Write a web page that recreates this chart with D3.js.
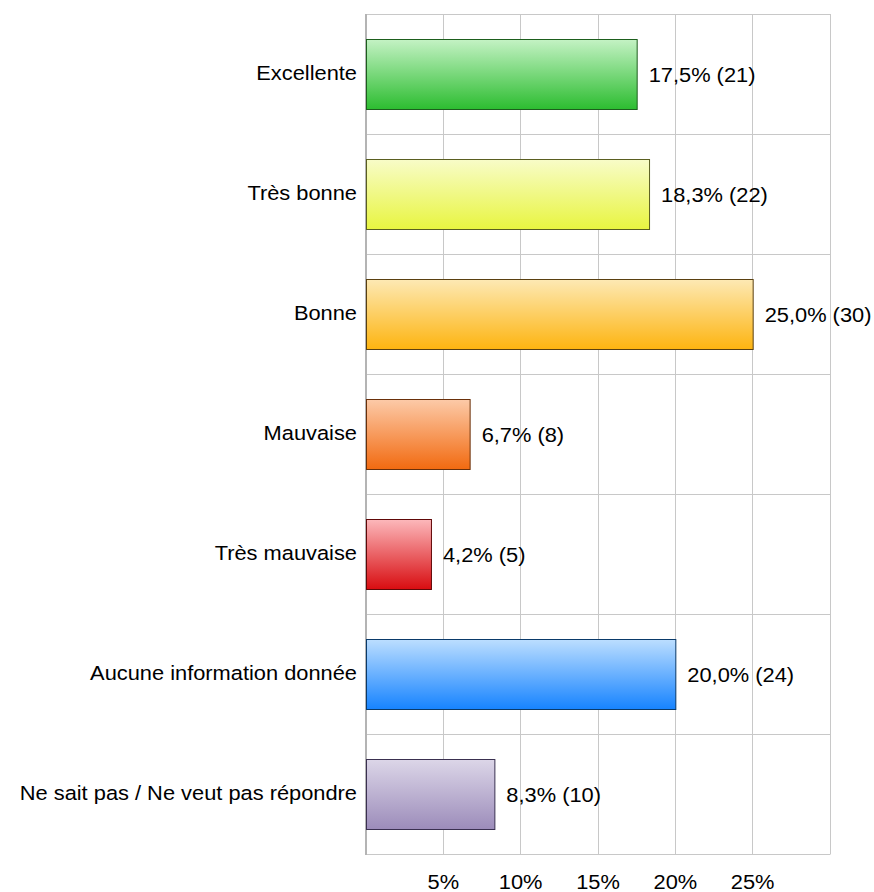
<!DOCTYPE html>
<html>
<head>
<meta charset="utf-8">
<script src="https://cdn.jsdelivr.net/npm/d3@7"></script>
<style>
  html, body { margin: 0; padding: 0; background: #ffffff; }
  text { font-family: "Liberation Sans", Arial, sans-serif; fill: #000; }
</style>
</head>
<body>
<svg id="chart" width="874" height="892"></svg>
<script>
// Survey answers, share of respondents (%) and counts
const categories = [
  "Excellente",
  "Très bonne",
  "Bonne",
  "Mauvaise",
  "Très mauvaise",
  "Aucune information donnée",
  "Ne sait pas / Ne veut pas répondre"
];
const percents = [17.5, 18.3, 25.0, 6.7, 4.2, 20.0, 8.3];
const counts = [21, 22, 30, 8, 5, 24, 10];
const tickValues = [5, 10, 15, 20, 25];
// Gradient stops (top, bottom) and outline for each bar
const topColors = ["#c4f2c4", "#f8fcc8", "#fde9b4", "#fccaa8", "#fcb8bb", "#bcdeff", "#dcd6e8"];
const bottomColors = ["#2cbd30", "#e8f540", "#fdb410", "#f26a10", "#d80c10", "#1683ff", "#9c8cba"];
const strokeColors = ["#1d5e1d", "#5a5e20", "#5a4010", "#6a300a", "#600808", "#0a3a6a", "#3a3050"];

const svg = d3.select("#chart");
const margin = { left: 366, right: 44, top: 14, bottom: 38 };
const W = 874, H = 892;
const x0 = margin.left, x1 = W - margin.right;
const y0 = margin.top, y1 = H - margin.bottom;

const x = d3.scaleLinear().domain([0, 30]).range([x0, x1]);
const y = d3.scaleBand().domain(categories).range([y0, y1])
  .paddingInner(0.4167).paddingOuter(0.4167 / 2);

const fontSize = 19.5;
const stretch = 1.12;

// gradients
const defs = svg.append("defs");
categories.forEach((c, i) => {
  const g = defs.append("linearGradient")
    .attr("id", "grad" + i).attr("x1", 0).attr("y1", 0).attr("x2", 0).attr("y2", 1);
  g.append("stop").attr("offset", "0%").attr("stop-color", topColors[i]);
  g.append("stop").attr("offset", "100%").attr("stop-color", bottomColors[i]);
});

// vertical grid lines
svg.append("g").selectAll("line")
  .data(tickValues.concat([30]))
  .join("line")
  .attr("x1", d => x(d)).attr("x2", d => x(d))
  .attr("y1", y0).attr("y2", y1)
  .attr("stroke", "#c8c8c8").attr("stroke-width", 1)
  .attr("shape-rendering", "crispEdges");

// horizontal lines between categories and at the top
const step = y.step();
const hLines = d3.range(categories.length).map(i => y0 + i * step);
svg.append("g").selectAll("line")
  .data(hLines)
  .join("line")
  .attr("x1", x0).attr("x2", x1)
  .attr("y1", d => d + 0.5).attr("y2", d => d + 0.5)
  .attr("stroke", "#c8c8c8").attr("stroke-width", 1);

// bottom axis line
svg.append("line")
  .attr("x1", x0).attr("x2", x1 + 0.5)
  .attr("y1", y1 + 0.5).attr("y2", y1 + 0.5)
  .attr("stroke", "#c8c8c8").attr("stroke-width", 1);

// left axis line
svg.append("line")
  .attr("x1", x0).attr("x2", x0)
  .attr("y1", y0).attr("y2", y1 + 1)
  .attr("stroke", "#b4b4b4").attr("stroke-width", 2);

// bars
svg.append("g").selectAll("rect")
  .data(categories)
  .join("rect")
  .attr("x", x(0) + 0.5)
  .attr("y", d => y(d) + 0.5)
  .attr("width", (d, i) => x(percents[i]) - x(0))
  .attr("height", y.bandwidth())
  .attr("fill", (d, i) => `url(#grad${i})`)
  .attr("stroke", (d, i) => strokeColors[i])
  .attr("stroke-width", 1);

// category labels
svg.append("g").selectAll("text")
  .data(categories)
  .join("text")
  .attr("transform", d => `translate(${x0 - 9},${y(d) + y.bandwidth() / 2 - 1}) scale(${stretch},1)`)
  .attr("text-anchor", "end")
  .attr("dy", "0.35em")
  .attr("font-size", fontSize)
  .text(d => d);

// value labels
const fmt = v => v.toFixed(1).replace(".", ",");
svg.append("g").selectAll("text")
  .data(categories)
  .join("text")
  .attr("transform", (d, i) => `translate(${x(percents[i]) + 12},${y(d) + y.bandwidth() / 2 + 1}) scale(${stretch},1)`)
  .attr("dy", "0.35em")
  .attr("font-size", fontSize)
  .text((d, i) => `${fmt(percents[i])}% (${counts[i]})`);

// x tick labels
svg.append("g").selectAll("text")
  .data(tickValues)
  .join("text")
  .attr("transform", d => `translate(${x(d)},${y1 + 28}) scale(${stretch},1)`)
  .attr("text-anchor", "middle")
  .attr("dy", "0.35em")
  .attr("font-size", fontSize)
  .text(d => d + "%");
</script>
</body>
</html>
